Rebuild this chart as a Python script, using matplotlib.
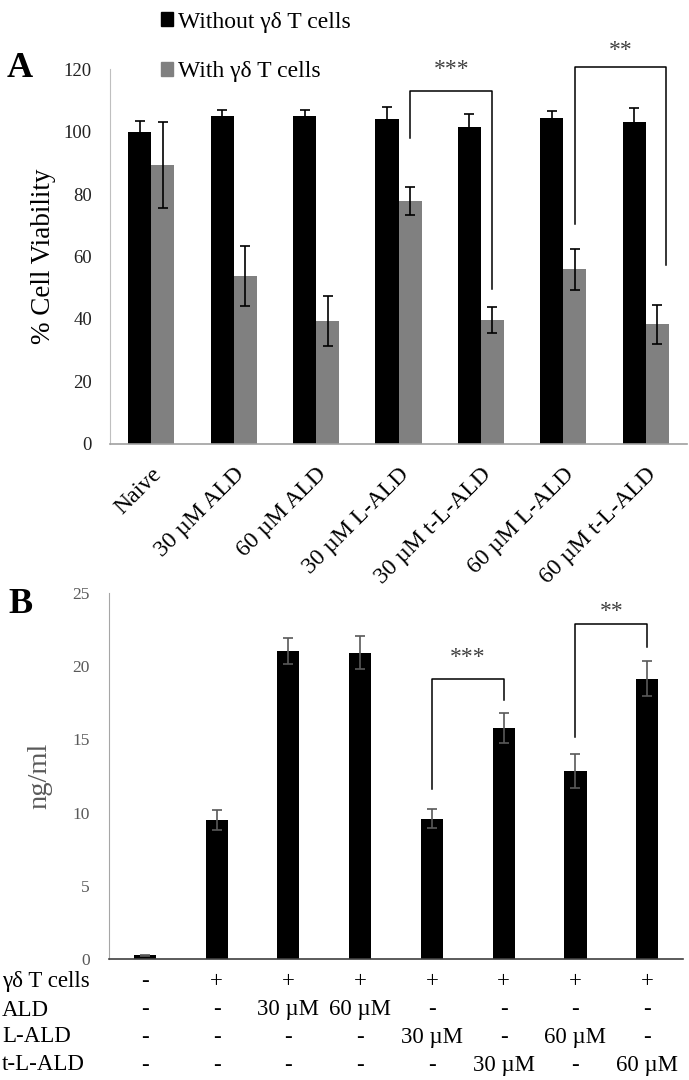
import numpy as np
import matplotlib
matplotlib.use('Agg')
import matplotlib.pyplot as plt
from matplotlib.patches import Patch

plt.rcParams['font.family'] = ['Liberation Serif', 'DejaVu Serif']

# panel A data
groups_a = ['Naive', '30 µM ALD', '60 µM ALD', '30 µM L-ALD', '30 µM t-L-ALD', '60 µM L-ALD', '60 µM t-L-ALD']
without_t = [100.0, 104.9, 104.9, 104.0, 101.4, 104.3, 103.0]
without_err = [3.5, 2.1, 2.1, 4.0, 4.2, 2.3, 4.5]
with_t = [89.2, 53.8, 39.4, 77.8, 39.7, 55.9, 38.3]
with_err = [13.7, 9.6, 7.9, 4.6, 4.2, 6.6, 6.3]

# panel B data
conc_b = [0.25, 9.48, 21.02, 20.93, 9.59, 15.77, 12.84, 19.14]
conc_err = [0.05, 0.68, 0.9, 1.13, 0.65, 1.04, 1.14, 1.2]
row_labels = ['γδ T cells', 'ALD', 'L-ALD', 't-L-ALD']
row_gd = ['-', '+', '+', '+', '+', '+', '+', '+']
row_ald = ['-', '-', '30 µM', '60 µM', '-', '-', '-', '-']
row_lald = ['-', '-', '-', '-', '30 µM', '-', '60 µM', '-']
row_tlald = ['-', '-', '-', '-', '-', '30 µM', '-', '60 µM']

fig = plt.figure(figsize=(6.89, 10.8), dpi=100)

# ---------- A ----------
axA = fig.add_axes([0.1597, 0.5889, 0.8374, 0.3472])
x = np.arange(len(groups_a))
w = 0.28
axA.bar(x - w/2, without_t, w, color='black', yerr=without_err,
        error_kw=dict(ecolor='black', elinewidth=1.2, capsize=3.5, capthick=1.2))
axA.bar(x + w/2, with_t, w, color='#808080', yerr=with_err,
        error_kw=dict(ecolor='black', elinewidth=1.2, capsize=3.5, capthick=1.2))
axA.set_xlim(-0.5, len(groups_a) - 0.5)
axA.set_ylim(0, 120)
axA.set_yticks(np.arange(0, 121, 20))
axA.tick_params(axis='y', length=0, labelsize=13.5, pad=13, labelcolor='#222222')
axA.tick_params(axis='x', length=0, pad=14)
axA.set_xticks(x)
axA.set_xticklabels(groups_a, rotation=45, ha='right', va='top',
                    rotation_mode='anchor', fontsize=17)
for s in ['top', 'right']:
    axA.spines[s].set_visible(False)
axA.spines['left'].set_color('#bfbfbf')
axA.spines['bottom'].set_color('#a0a0a0')
axA.spines['bottom'].set_linewidth(1.2)
axA.set_ylabel('% Cell Viability', fontsize=19.5, labelpad=6)


def bracket(ax, x1, x2, top, y1, y2, label, ty, color='black', fs=17):
    ax.plot([x1, x1, x2, x2], [y1, top, top, y2], color=color, lw=1.1, clip_on=False)
    ax.text((x1 + x2) / 2, ty, label, ha='center', va='center', fontsize=fs, color='#404040',
            clip_on=False)


bracket(axA, 3 + w/2, 4 + w/2, 112.9, 98, 49.7, '***', 119.8)
bracket(axA, 5 + w/2, 6 + w/2 + 0.1, 120.5, 70.3, 57.3, '**', 125.8)

handles = [Patch(color='black'), Patch(color='#808080')]
fig.legend(handles, ['Without γδ T cells', 'With γδ T cells'], loc='upper left',
           bbox_to_anchor=(0.203, 1.009), frameon=False, fontsize=17,
           handlelength=0.5, handleheight=0.5, handletextpad=0.2, labelspacing=1.22)

fig.text(0.010, 0.937, 'A', fontsize=26, fontweight='bold', va='center', ha='left')
fig.text(0.012, 0.44, 'B', fontsize=26, fontweight='bold', va='center', ha='left')

# ---------- B ----------
axB = fig.add_axes([0.1582, 0.1120, 0.8331, 0.3389])
xb = np.arange(len(conc_b))
axB.bar(xb, conc_b, 0.31, color='black', yerr=conc_err,
        error_kw=dict(ecolor='#595959', elinewidth=1.2, capsize=3.5, capthick=1.2))
axB.set_xlim(-0.5, len(conc_b) - 0.5)
axB.set_ylim(0, 25)
axB.set_yticks(np.arange(0, 26, 5))
axB.set_xticks([])
axB.tick_params(axis='y', length=0, labelsize=12.5, pad=14, labelcolor='#595959')
for s in ['top', 'right']:
    axB.spines[s].set_visible(False)
axB.spines['left'].set_color('#a6a6a6')
axB.spines['bottom'].set_color('#404040')
axB.spines['bottom'].set_linewidth(1.2)
axB.set_ylabel('ng/ml', fontsize=20.5, color='#595959', labelpad=14)

bracket(axB, 4, 5, 19.16, 11.6, 17.66, '***', 20.57)
bracket(axB, 6, 7, 22.86, 15.2, 21.3, '**', 23.75)

# condition table under panel B
rows = [row_gd, row_ald, row_lald, row_tlald]
row_y = [982, 1010, 1037, 1065]
for lab, vals, yp in zip(row_labels, rows, row_y):
    yf = 1 - yp / 1080
    fig.text(0.003, yf, lab, fontsize=16.5, ha='left', va='center')
    for i, v in enumerate(vals):
        xd = axB.transData.transform((i, 0))[0]
        xf = fig.transFigure.inverted().transform((xd, 0))[0]
        fig.text(xf, yf, v, fontsize=16.5, ha='center', va='center')

fig.savefig('out.png', dpi=100)
